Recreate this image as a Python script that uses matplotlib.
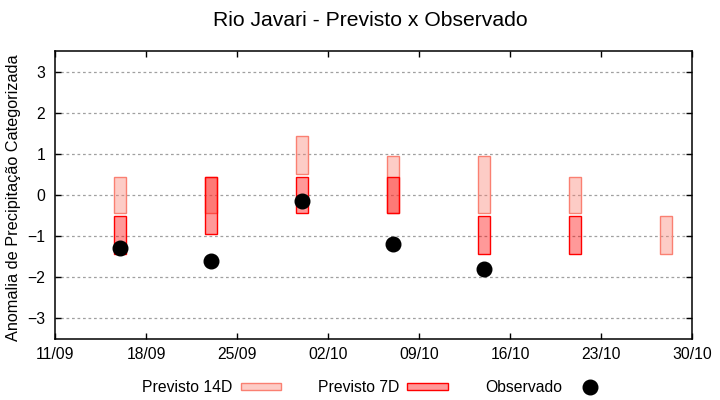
import numpy as np
import matplotlib
matplotlib.use('Agg')
import matplotlib.pyplot as plt
import matplotlib.dates as mdates
from matplotlib.patches import Patch
from matplotlib.lines import Line2D
import datetime as dt

plt.rcParams['font.family'] = ['Liberation Sans', 'DejaVu Sans']

# dates of each forecast (year not shown on chart)
dates = ['2023-09-16', '2023-09-23', '2023-09-30', '2023-10-07',
         '2023-10-14', '2023-10-21', '2023-10-28']

# Previsto 14D range (low, high)
p14_low = [-0.44, -0.44, 0.51, -0.44, -0.44, -0.44, -1.44]
p14_high = [0.43, 0.43, 1.44, 0.95, 0.95, 0.43, -0.51]

# Previsto 7D range (None = no forecast)
p7_low = [-1.44, -0.95, -0.44, -0.44, -1.44, -1.44, None]
p7_high = [-0.51, 0.43, 0.43, 0.43, -0.51, -0.51, None]

# Observado
obs_dates = ['2023-09-16', '2023-09-23', '2023-09-30', '2023-10-07', '2023-10-14']
obs_vals = [-1.29, -1.60, -0.15, -1.20, -1.80]

xticks = ['2023-09-11', '2023-09-18', '2023-09-25', '2023-10-02',
          '2023-10-09', '2023-10-16', '2023-10-23', '2023-10-30']

def todate(s):
    return mdates.date2num(dt.datetime.strptime(s, '%Y-%m-%d'))

x = np.array([todate(d) for d in dates])
xo = np.array([todate(d) for d in obs_dates])

fig = plt.figure(figsize=(7.2, 4.0), dpi=100)
ax = fig.add_axes([55/720, 61/400, 637/720, 288/400])

w = 0.92
lw = 1.0
c14 = matplotlib.colors.to_rgba('salmon', 0.4)
c7 = (1.0, 0.0, 0.0, 0.4)

ax.bar(x, np.array(p14_high) - np.array(p14_low), bottom=p14_low, width=w,
       facecolor=c14, edgecolor='salmon', linewidth=lw, zorder=2)

m = [i for i in range(len(x)) if p7_low[i] is not None]
ax.bar(x[m], [p7_high[i] - p7_low[i] for i in m], bottom=[p7_low[i] for i in m],
       width=w, facecolor=c7, edgecolor='red', linewidth=lw, zorder=3)

ax.plot(xo, obs_vals, 'o', color='black', markersize=10.5, zorder=4)

ax.set_xlim(todate(xticks[0]), todate(xticks[-1]))
ax.set_ylim(-3.5, 3.5)
ax.set_xticks([todate(t) for t in xticks])
ax.set_xticklabels([dt.datetime.strptime(t, '%Y-%m-%d').strftime('%d/%m') for t in xticks])
ax.set_yticks(range(-3, 4))
ax.yaxis.grid(True, color='#a0a0a0', linestyle=(0, (2.2, 2.2)), linewidth=0.9)
ax.set_axisbelow(True)
ax.tick_params(direction='in', length=4, width=1, top=True, right=True,
               labelsize=11.3, pad=6, colors='black')
ax.tick_params(axis='y', pad=7)
for s in ax.spines.values():
    s.set_linewidth(1.1)

ax.set_ylabel('Anomalia de Precipitação Categorizada', fontsize=11.7)
ax.yaxis.set_label_coords(-0.053, 0.49)
fig.text(370/720, 0.95, 'Rio Javari - Previsto x Observado', ha='center', va='center',
         fontsize=15.2)

handles = [Patch(facecolor=c14, edgecolor='salmon', linewidth=lw),
           Patch(facecolor=c7, edgecolor='red', linewidth=lw)]
handles.append(Line2D([], [], marker='o', color='black', linestyle='none', markersize=10.5))
fig.legend(handles, ['Previsto 14D', 'Previsto 7D', 'Observado'],
           loc='center', bbox_to_anchor=(0.523, 0.032), ncol=3, frameon=False,
           markerfirst=False, fontsize=11.3, handlelength=2.6, handleheight=0.3,
           handletextpad=0.5, columnspacing=2.35)

fig.savefig('out.png', dpi=100)
